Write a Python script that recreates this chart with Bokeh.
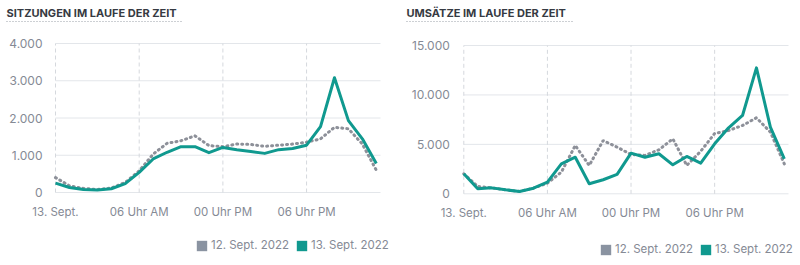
from bokeh.plotting import figure
from bokeh.layouts import row
from bokeh.models import Label, Legend, LegendItem, Range1d, ColumnDataSource
from bokeh.core.properties import value
from bokeh.embed import file_html
from bokeh.resources import INLINE

hours = list(range(24))
sessions_12 = [400, 180, 110, 80, 120, 270, 580, 1030, 1320, 1390, 1520, 1260,
               1230, 1300, 1290, 1240, 1270, 1300, 1350, 1440, 1750, 1710, 1300, 600]
sessions_13 = [250, 135, 80, 70, 100, 240, 540, 900, 1080, 1230, 1230, 1070,
               1210, 1150, 1100, 1050, 1150, 1180, 1270, 1770, 3080, 1930, 1440, 780]
revenue_12 = [2020, 740, 600, 400, 240, 570, 1080, 2190, 4890, 2870, 5390, 4720,
              3980, 3880, 4450, 5560, 2870, 4300, 6100, 6400, 6910, 7690, 6240, 3030]
revenue_13 = [2020, 505, 600, 400, 240, 570, 1180, 3030, 3700, 1010, 1420, 1960,
              4110, 3700, 4050, 2930, 3780, 3100, 5060, 6680, 7920, 12740, 6740, 3540]

x_ticks = [0, 6, 12, 18]
x_tick_labels = ["13. Sept.", "06 Uhr AM", "00 Uhr PM", "06 Uhr PM"]
sessions_y_ticks = [0, 1000, 2000, 3000, 4000]
sessions_y_labels = ["0", "1.000", "2.000", "3.000", "4.000"]
revenue_y_ticks = [0, 5000, 10000, 15000]
revenue_y_labels = ["0", "5.000", "10.000", "15.000"]
series_names = ["12. Sept. 2022", "13. Sept. 2022"]
titles = ["SITZUNGEN IM LAUFE DER ZEIT", "UMSÄTZE IM LAUFE DER ZEIT"]

TEAL = "#10998f"
GRAY_DOT = "#8d9099"
GRAY_SQ = "#8a93a1"
GRID = "#e3e6ea"
VGRID = "#d5d8dd"
TICK = "#858a95"
FONT = "Inter"
W, H = 400, 265
X_END = 23.3  # hours shown to the right of the last point


def make_chart(title, y12, y13, yticks, ylabels, px_left, px_right, px_top, px_zero,
               ul_w, legend_xy, ylab_gap, xlab_gap):
    ymax = yticks[-1]
    kx = (px_right - px_left) / X_END
    ky = (px_zero - px_top) / ymax
    p = figure(width=W, height=H, output_backend="svg", toolbar_location=None,
               x_range=Range1d(-px_left / kx, (W - px_left) / kx),
               y_range=Range1d(-(H - px_zero) / ky, ymax + px_top / ky),
               min_border=0, x_axis_type=None, y_axis_type=None)
    p.outline_line_color = None
    p.xgrid.visible = False
    p.ygrid.visible = False

    # grid lines drawn from the tick arrays
    p.segment(x0=[0] * len(yticks), y0=yticks, x1=[X_END] * len(yticks), y1=yticks,
              line_color=GRID, line_width=1)
    p.segment(x0=x_ticks, y0=[0] * len(x_ticks), x1=x_ticks, y1=[ymax] * len(x_ticks),
              line_color=VGRID, line_width=1, line_dash="4 3")

    src = ColumnDataSource(dict(x=hours, a=y12, b=y13))
    p.line("x", "a", source=src, line_color=GRAY_DOT, line_width=3,
           line_dash="1 4", line_cap="round")
    p.line("x", "b", source=src, line_color=TEAL, line_width=3, line_join="round")

    # tick labels
    p.text(x=x_ticks, y=[0] * len(x_ticks), text=x_tick_labels, y_offset=xlab_gap,
           text_align="center", text_baseline="middle", text_color=TICK,
           text_font=value(FONT), text_font_size=value("11.5px"))
    p.text(x=[0] * len(yticks), y=yticks, text=ylabels, x_offset=-ylab_gap,
           text_align="right", text_baseline="middle", text_color=TICK,
           text_font=value(FONT), text_font_size=value("12px"))

    # title (screen units from the frame's bottom-left) with a dotted underline
    p.add_layout(Label(x=6, y=H - 12, x_units="screen", y_units="screen", text=title,
                       text_font=FONT, text_font_style="bold", text_font_size="11px",
                       text_color="#363a42", text_baseline="alphabetic"))
    ul_x = [(6 - px_left) / kx, (6 + ul_w - px_left) / kx]
    ul_y = [(px_zero - 21) / ky] * 2
    p.line(x=ul_x, y=ul_y, line_color="#9aa0a8", line_width=1, line_dash="1 2")

    # legend swatches: zero-area bars over the series data (nothing drawn in the plot)
    d12 = p.vbar(x="x", top="a", bottom="a", width=0, source=src,
                 fill_color=GRAY_SQ, line_color=None)
    d13 = p.vbar(x="x", top="b", bottom="b", width=0, source=src,
                 fill_color=TEAL, line_color=None)
    legend = Legend(items=[LegendItem(label=series_names[0], renderers=[d12]),
                           LegendItem(label=series_names[1], renderers=[d13])],
                    orientation="horizontal", location=legend_xy,
                    border_line_color=None, background_fill_alpha=0,
                    label_text_font=FONT, label_text_font_size="11.5px",
                    label_text_color=TICK, glyph_width=13, glyph_height=13,
                    label_standoff=3, spacing=6, padding=0, margin=0)
    p.add_layout(legend, "center")
    return p


p1 = make_chart(titles[0], sessions_12, sessions_13, sessions_y_ticks, sessions_y_labels,
                55, 380, 43, 192, 177, (195, 13), 13, 19)
p2 = make_chart(titles[1], revenue_12, revenue_13, revenue_y_ticks, revenue_y_labels,
                63.3, 388, 45, 193.3, 168, (199, 9), 14, 19.5)

layout = row(p1, p2)
open("out.html", "w").write(file_html(layout, INLINE))
